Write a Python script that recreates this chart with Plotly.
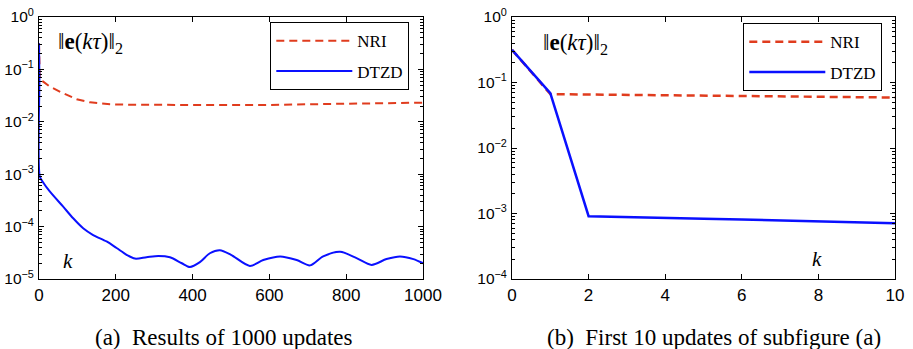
import plotly.graph_objects as go

# ---------------- data ----------------
# (a) 1000 updates
k_a = [0, 1, 2, 10, 28, 63, 89, 115, 141, 176, 202, 228, 250, 280, 311, 341, 372, 393,
       419, 445, 471, 500, 549, 584, 628, 671, 706, 740, 784, 827, 866, 905, 940, 975, 1000]
dtzd_a = [0.316, 0.069, 9.1e-4, 7.1e-4, 4.7e-4, 2.4e-4, 1.44e-4, 9.3e-5, 6.9e-5, 5.2e-5,
          3.9e-5, 2.9e-5, 2.45e-5, 2.6e-5, 2.75e-5, 2.6e-5, 2.0e-5, 1.7e-5, 2.1e-5, 3.1e-5,
          3.55e-5, 2.9e-5, 1.78e-5, 2.3e-5, 2.7e-5, 2.3e-5, 1.82e-5, 2.7e-5, 3.3e-5, 2.5e-5,
          1.86e-5, 2.4e-5, 2.7e-5, 2.4e-5, 2.0e-5]
k_a_nri = [0, 1, 2, 10, 28, 63, 98, 133, 185, 250, 324, 437, 584, 758, 1000]
nri_a = [0.316, 0.0665, 0.0655, 0.059, 0.047, 0.035, 0.027, 0.0235, 0.0216, 0.0211,
         0.0209, 0.0207, 0.0209, 0.0219, 0.0232]

# (b) first 10 updates
k_b = [0, 1, 2, 3, 4, 5, 6, 7, 8, 9, 10]
dtzd_b = [0.316, 0.069, 9.1e-4, 8.9e-4, 8.6e-4, 8.35e-4, 8.1e-4, 7.85e-4, 7.6e-4, 7.35e-4, 7.1e-4]
nri_b = [0.316, 0.0665, 0.0655, 0.0645, 0.0635, 0.0627, 0.0618, 0.061, 0.0603, 0.0597, 0.059]

xticks_a = [0, 200, 400, 600, 800, 1000]
xticks_b = [0, 2, 4, 6, 8, 10]
ydec_a = [-5, -4, -3, -2, -1, 0]
ydec_b = [-4, -3, -2, -1, 0]

RED = "#e03c1e"
BLUE = "#0a10ff"
SANS = "Liberation Sans"
SERIF = "Liberation Serif"

W, H = 913, 349

def px_x(p):
    return p / W

def px_y(p):
    return 1 - p / H

fig = go.Figure()

fig.add_trace(go.Scatter(x=k_a_nri, y=nri_a, mode="lines", name="NRI",
                         line=dict(color=RED, width=2, dash="8px,5px"),
                         xaxis="x", yaxis="y", legend="legend", legendgroup="a1"))
fig.add_trace(go.Scatter(x=k_a, y=dtzd_a, mode="lines", name="DTZD",
                         line=dict(color=BLUE, width=2, shape="spline", smoothing=0.8),
                         xaxis="x", yaxis="y", legend="legend", legendgroup="a2"))
fig.add_trace(go.Scatter(x=k_b, y=nri_b, mode="lines", name="NRI",
                         line=dict(color=RED, width=2.5, dash="8px,5px"),
                         xaxis="x2", yaxis="y2", legend="legend2", legendgroup="b1"))
fig.add_trace(go.Scatter(x=k_b, y=dtzd_b, mode="lines", name="DTZD",
                         line=dict(color=BLUE, width=2.5),
                         xaxis="x2", yaxis="y2", legend="legend2", legendgroup="b2"))

def sup(p):
    s = str(abs(p))
    return "10<sup>" + ("\u2212" if p < 0 else "") + s + "</sup>"

def minor_vals(decs):
    out = []
    for d in decs[:-1]:
        for m in range(2, 10):
            out.append(m * 10 ** d)
    return out

common = dict(showline=True, linecolor="black", linewidth=1, mirror="ticks",
              ticks="inside", ticklen=5, tickcolor="black", tickwidth=1,
              showgrid=False, zeroline=False, automargin=False)
xfont = dict(family=SANS, size=17, color="black")
yfont = dict(family=SANS, size=15.5, color="black")

dom_y = [px_y(279), px_y(17)]
fig.update_layout(
    xaxis=dict(domain=[px_x(39), px_x(423)], range=[0, 1000], tickvals=xticks_a,
               anchor="y", ticklabelstandoff=1, tickfont=xfont, **common),
    yaxis=dict(domain=dom_y, type="log", range=[-5, 0], anchor="x",
               tickvals=[10 ** d for d in ydec_a], ticktext=[sup(d) for d in ydec_a],
               minor=dict(tickvals=minor_vals(ydec_a), ticks="inside", ticklen=3,
                          tickcolor="black", showgrid=False),
               ticklabelstandoff=1, tickfont=yfont, **common),
    xaxis2=dict(domain=[px_x(512), px_x(895)], range=[0, 10], tickvals=xticks_b,
                anchor="y2", ticklabelstandoff=1, tickfont=xfont, **common),
    yaxis2=dict(domain=dom_y, type="log", range=[-4, 0], anchor="x2",
                tickvals=[10 ** d for d in ydec_b], ticktext=[sup(d) for d in ydec_b],
                minor=dict(tickvals=minor_vals(ydec_b), ticks="inside", ticklen=3,
                           tickcolor="black", showgrid=False),
                ticklabelstandoff=1, tickfont=yfont, **common),
    legend=dict(x=px_x(270), y=px_y(22), xanchor="left", yanchor="top",
                bordercolor="black", borderwidth=1.3, bgcolor="white",
                font=dict(family=SERIF, size=17, color="black"),
                itemwidth=76, tracegroupgap=5),
    legend2=dict(x=px_x(743), y=px_y(23), xanchor="left", yanchor="top",
                 bordercolor="black", borderwidth=1.3, bgcolor="white",
                 font=dict(family=SERIF, size=17, color="black"),
                 itemwidth=76, tracegroupgap=5),
    width=W, height=H, margin=dict(l=0, r=0, t=0, b=0),
    paper_bgcolor="white", plot_bgcolor="white",
    template="none", showlegend=True,
)

norm = "\u2016<b>e</b>(<i>k\u03c4</i>)\u2016<sub>2</sub>"
ann_font = dict(family=SERIF, size=23, color="black")
k_font = dict(family=SERIF, size=21, color="black")
fig.add_annotation(x=px_x(56), y=px_y(43), xref="paper", yref="paper", text=norm,
                   showarrow=False, xanchor="left", yanchor="middle", font=ann_font)
fig.add_annotation(x=px_x(541), y=px_y(44), xref="paper", yref="paper", text=norm,
                   showarrow=False, xanchor="left", yanchor="middle", font=ann_font)
fig.add_annotation(x=px_x(68), y=px_y(261), xref="paper", yref="paper", text="<i>k</i>",
                   showarrow=False, xanchor="center", yanchor="middle", font=k_font)
fig.add_annotation(x=px_x(817), y=px_y(259), xref="paper", yref="paper", text="<i>k</i>",
                   showarrow=False, xanchor="center", yanchor="middle", font=k_font)

cap_font = dict(family=SERIF, size=23, color="black")
fig.add_annotation(x=px_x(223), y=px_y(337), xref="paper", yref="paper",
                   text="(a)\u2002Results of 1000 updates", showarrow=False,
                   xanchor="center", yanchor="middle", font=cap_font)
fig.add_annotation(x=px_x(714), y=px_y(337), xref="paper", yref="paper",
                   text="(b)\u2002First 10 updates of subfigure (a)", showarrow=False,
                   xanchor="center", yanchor="middle", font=cap_font)

fig.write_html("out.html")
